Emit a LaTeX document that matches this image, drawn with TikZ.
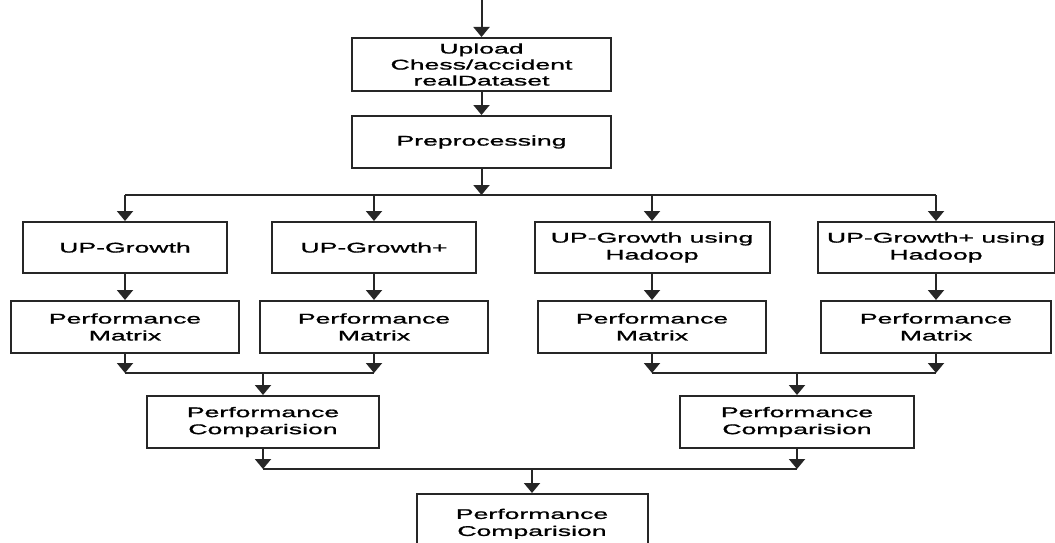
\documentclass[tikz,border=0pt]{standalone}
\usepackage{fontspec}
\setmainfont[FakeStretch=1.9,FakeBold=1.2]{Liberation Sans}
\usetikzlibrary{arrows.meta}
\begin{document}
\begin{tikzpicture}[x=1pt,y=-1pt,
  box/.style={draw=black!85, line width=2pt, fill=white, inner sep=0pt, align=center,
    font=\fontsize{14}{17}\selectfont, text=black},
  conn/.style={draw=black!85, line width=2pt},
  arr/.style={conn, -{Triangle[width=16pt,length=10pt]}}
]
\useasboundingbox (0,0) rectangle (1055,543);
\clip (0,0) rectangle (1055,543);
% top
\coordinate (start) at (481.5,0);
\node[box, minimum width=259pt, minimum height=53pt, font=\fontsize{14}{16}\selectfont] (up) at (481.5,64.5) {Upload\\Chess/accident\\realDataset};
\node[box, minimum width=259pt, minimum height=52pt] (pre) at (481.5,142) {Preprocessing};
% level 1
\node[box, minimum width=204pt, minimum height=51pt] (g1) at (125,247.5) {UP-Growth};
\node[box, minimum width=204pt, minimum height=51pt] (g2) at (374,247.5) {UP-Growth+};
\node[box, minimum width=235pt, minimum height=51pt] (g3) at (652,247.5) {UP-Growth using\\Hadoop};
\node[box, minimum width=237pt, minimum height=51pt] (g4) at (936,247.5) {UP-Growth+ using\\Hadoop};
% performance matrix
\node[box, minimum width=228pt, minimum height=52pt] (m1) at (125,327) {Performance\\Matrix};
\node[box, minimum width=228pt, minimum height=52pt] (m2) at (374,327) {Performance\\Matrix};
\node[box, minimum width=228pt, minimum height=52pt] (m3) at (652,327) {Performance\\Matrix};
\node[box, minimum width=230pt, minimum height=52pt] (m4) at (936,327) {Performance\\Matrix};
% comparisons
\node[box, minimum width=232pt, minimum height=52pt] (c1) at (263,422) {Performance\\Comparision};
\node[box, minimum width=234pt, minimum height=52pt] (c2) at (797,422) {Performance\\Comparision};
\node[box, minimum width=231pt, minimum height=60pt, anchor=north] (fin) at (532,493) {\raisebox{4pt}{\begin{tabular}{@{}c@{}}Performance\\[0pt]Comparision\end{tabular}}};
% junction coordinates
\coordinate (b0) at (481.5,195);
\coordinate (b1) at (125,195);
\coordinate (b2) at (374,195);
\coordinate (b3) at (652,195);
\coordinate (b4) at (936,195);
\coordinate (j1) at (125,373);
\coordinate (j2) at (374,373);
\coordinate (jm1) at (263,373);
\coordinate (j3) at (652,373);
\coordinate (j4) at (936,373);
\coordinate (jm2) at (797,373);
\coordinate (k1) at (263,469);
\coordinate (k2) at (797,469);
\coordinate (km) at (532,469);
% connectors
\draw[arr] (start) -- (up);
\draw[arr] (up) -- (pre);
\draw[arr] (pre) -- (b0);
\draw[conn] (b1) -- (b4);
\draw[arr] (b1) -- (g1);
\draw[arr] (b2) -- (g2);
\draw[arr] (b3) -- (g3);
\draw[arr] (b4) -- (g4);
\draw[arr] (g1) -- (m1);
\draw[arr] (g2) -- (m2);
\draw[arr] (g3) -- (m3);
\draw[arr] (g4) -- (m4);
\draw[arr] (m1) -- (j1);
\draw[arr] (m2) -- (j2);
\draw[arr] (m3) -- (j3);
\draw[arr] (m4) -- (j4);
\draw[conn] (j1) -- (j2);
\draw[conn] (j3) -- (j4);
\draw[arr] (jm1) -- (c1);
\draw[arr] (jm2) -- (c2);
\draw[arr] (c1) -- (k1);
\draw[arr] (c2) -- (k2);
\draw[conn] (k1) -- (k2);
\draw[arr] (km) -- (fin);
\end{tikzpicture}
\end{document}
